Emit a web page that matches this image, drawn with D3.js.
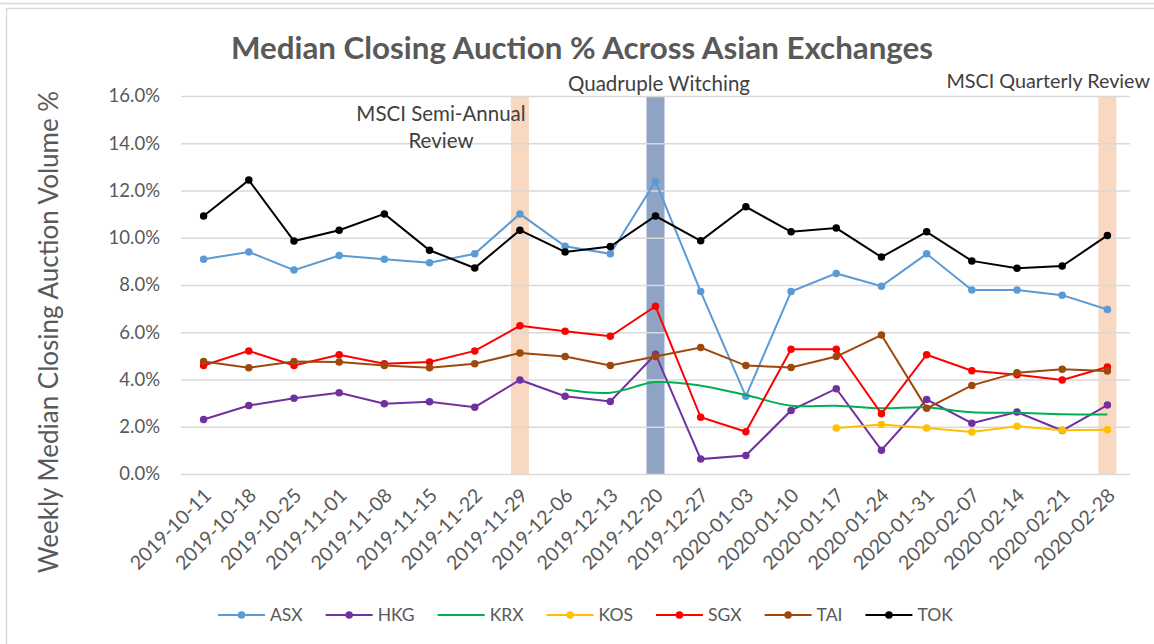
<!DOCTYPE html>
<html>
<head>
<meta charset="utf-8">
<script src="https://cdn.jsdelivr.net/npm/d3@7"></script>
<style>
  html, body { margin: 0; padding: 0; background: #fff; }
  svg { display: block; font-family: Lato, "Open Sans", sans-serif; }
</style>
</head>
<body>
<svg id="chart" width="1154" height="644"></svg>
<script>
// Weekly dates on the x axis
const weeks = [
  '2019-10-11', '2019-10-18', '2019-10-25', '2019-11-01', '2019-11-08', '2019-11-15',
  '2019-11-22', '2019-11-29', '2019-12-06', '2019-12-13', '2019-12-20', '2019-12-27',
  '2020-01-03', '2020-01-10', '2020-01-17', '2020-01-24', '2020-01-31', '2020-02-07',
  '2020-02-14', '2020-02-21', '2020-02-28'
];

// Median closing auction % per exchange (null = no data that week)
const asx = [9.09, 9.40, 8.63, 9.25, 9.09, 8.94, 9.32, 11.01, 9.64, 9.32, 12.39, 7.72, 3.29, 7.72, 8.49, 7.95, 9.32, 7.79, 7.79, 7.57, 6.96];
const hkg = [2.31, 2.90, 3.21, 3.44, 2.97, 3.06, 2.83, 3.98, 3.29, 3.07, 5.07, 0.63, 0.78, 2.69, 3.61, 1.01, 3.15, 2.15, 2.62, 1.84, 2.92];
const krx = [null, null, null, null, null, null, null, null, 3.58, 3.44, 3.89, 3.74, 3.34, 2.89, 2.89, 2.78, 2.82, 2.61, 2.59, 2.53, 2.52];
const kos = [null, null, null, null, null, null, null, null, null, null, null, null, null, null, 1.95, 2.09, 1.95, 1.78, 2.02, 1.85, 1.87];
const sgx = [4.59, 5.21, 4.59, 5.05, 4.67, 4.74, 5.21, 6.27, 6.04, 5.83, 7.10, 2.40, 1.79, 5.28, 5.28, 2.55, 5.05, 4.37, 4.20, 3.98, 4.53];
const tai = [4.76, 4.50, 4.76, 4.74, 4.59, 4.50, 4.67, 5.12, 4.97, 4.59, 4.97, 5.35, 4.59, 4.51, 4.97, 5.88, 2.78, 3.75, 4.29, 4.43, 4.36];
const tok = [10.92, 12.44, 9.86, 10.32, 11.01, 9.47, 8.72, 10.32, 9.40, 9.63, 10.92, 9.87, 11.31, 10.25, 10.41, 9.18, 10.25, 9.02, 8.71, 8.80, 10.10];

const yTicks = [0, 2, 4, 6, 8, 10, 12, 14, 16];

// Event weeks that get a highlight column
const eventWeeks = ['2019-11-29', '2019-12-20', '2020-02-28'];
const eventLabels = [['MSCI Semi-Annual', 'Review'], ['Quadruple Witching'], ['MSCI Quarterly Review']];

const series = [
  { name: 'ASX', values: asx, color: '#5B9BD5', marker: true },
  { name: 'HKG', values: hkg, color: '#7030A0', marker: true },
  { name: 'KRX', values: krx, color: '#00B050', marker: false, smooth: true },
  { name: 'KOS', values: kos, color: '#FFC000', marker: true },
  { name: 'SGX', values: sgx, color: '#FF0000', marker: true },
  { name: 'TAI', values: tai, color: '#9E480E', marker: true },
  { name: 'TOK', values: tok, color: '#000000', marker: true }
];

const svg = d3.select('#chart');
const plot = { left: 181, right: 1130, top: 96, bottom: 474 };

// frame lines
svg.append('line')
  .attr('x1', 0).attr('x2', 1154).attr('y1', 3.5).attr('y2', 3.5)
  .attr('stroke', '#D9D9D9').attr('stroke-width', 1.5);
svg.append('rect')
  .attr('x', 6.5).attr('y', 8.5).attr('width', 1170).attr('height', 650)
  .attr('fill', 'none').attr('stroke', '#D9D9D9').attr('stroke-width', 1.5);

const x = d3.scaleBand().domain(weeks).range([plot.left, plot.right]);
const cx = d => x(d) + x.bandwidth() / 2;
const y = d3.scaleLinear().domain([0, 16]).range([plot.bottom, plot.top]);

// event columns
const bandColors = ['#F4B183', '#44679F', '#F4B183'];
const bandOpacity = [0.5, 0.6, 0.5];
svg.append('g').selectAll('rect')
  .data(eventWeeks)
  .join('rect')
  .attr('x', d => cx(d) - 9)
  .attr('width', 18)
  .attr('y', y(16))
  .attr('height', y(0) - y(16))
  .attr('fill', (d, i) => bandColors[i])
  .attr('opacity', (d, i) => bandOpacity[i]);

// y axis with gridlines
const yAxis = svg.append('g')
  .attr('transform', `translate(${plot.left},0)`)
  .call(d3.axisLeft(y).tickValues(yTicks).tickFormat(d => d.toFixed(1) + '%')
    .tickSize(-(plot.right - plot.left)).tickPadding(21));
yAxis.select('.domain').remove();
yAxis.selectAll('.tick line').attr('stroke', '#D9D9D9').attr('stroke-width', 1.5);
yAxis.selectAll('.tick text')
  .attr('fill', '#595959').attr('font-size', 18.5).attr('font-family', 'Lato');

// x axis labels, rotated
const xAxis = svg.append('g')
  .attr('transform', `translate(0,${plot.bottom})`)
  .call(d3.axisBottom(x).tickSize(0));
xAxis.select('.domain').remove();
xAxis.selectAll('.tick text')
  .attr('fill', '#595959').attr('font-size', 19.5).attr('font-family', 'Lato')
  .attr('text-anchor', 'end')
  .attr('dy', '0.35em')
  .attr('transform', 'translate(4,18) rotate(-45)')
  .attr('y', 0).attr('x', 0);

// lines and markers
series.forEach(s => {
  const pts = weeks.map((w, i) => ({ w, v: s.values[i] })).filter(p => p.v != null);
  const line = d3.line()
    .x(p => cx(p.w))
    .y(p => y(p.v))
    .curve(s.smooth ? d3.curveCatmullRom.alpha(0.5) : d3.curveLinear);
  svg.append('path')
    .datum(pts)
    .attr('fill', 'none')
    .attr('stroke', s.color)
    .attr('stroke-width', 2)
    .attr('d', line);
  if (s.marker) {
    svg.append('g').selectAll('circle')
      .data(pts)
      .join('circle')
      .attr('cx', p => cx(p.w))
      .attr('cy', p => y(p.v))
      .attr('r', 3.75)
      .attr('fill', s.color);
  }
});

// title
svg.append('text')
  .attr('x', 582).attr('y', 59)
  .attr('text-anchor', 'middle')
  .attr('font-size', 31.3).attr('font-weight', 'bold')
  .attr('fill', '#595959')
  .text('Median Closing Auction % Across Asian Exchanges');

// y axis title
svg.append('text')
  .attr('transform', 'translate(58,332) rotate(-90)')
  .attr('text-anchor', 'middle')
  .attr('font-size', 26)
  .attr('fill', '#595959')
  .text('Weekly Median Closing Auction Volume %');

// event annotations
const notePos = [
  { x: 441, y: 121, anchor: 'middle', size: 20.5 },
  { x: 659, y: 91, anchor: 'middle', size: 20.5 },
  { x: 1150, y: 88, anchor: 'end', size: 19.8 }
];
eventLabels.forEach((lines, i) => {
  const p = notePos[i];
  const t = svg.append('text')
    .attr('text-anchor', p.anchor)
    .attr('font-size', p.size)
    .attr('fill', '#404040');
  lines.forEach((l, j) => {
    t.append('tspan')
      .attr('x', p.x)
      .attr('y', p.y + j * 27)
      .text(l);
  });
});

// legend
const legend = svg.append('g').attr('transform', 'translate(218,615)');
let lx = 0;
series.forEach(s => {
  const g = legend.append('g').attr('transform', `translate(${lx},0)`);
  g.append('line')
    .attr('x1', 0).attr('x2', 47)
    .attr('stroke', s.color).attr('stroke-width', 2);
  if (s.marker) {
    g.append('circle').attr('cx', 23.5).attr('r', 3.75).attr('fill', s.color);
  }
  const t = g.append('text')
    .attr('x', 52).attr('dy', '0.35em')
    .attr('font-size', 17.5)
    .attr('fill', '#595959')
    .text(s.name);
  lx += 52 + t.node().getComputedTextLength() + 23;
});
</script>
</body>
</html>
